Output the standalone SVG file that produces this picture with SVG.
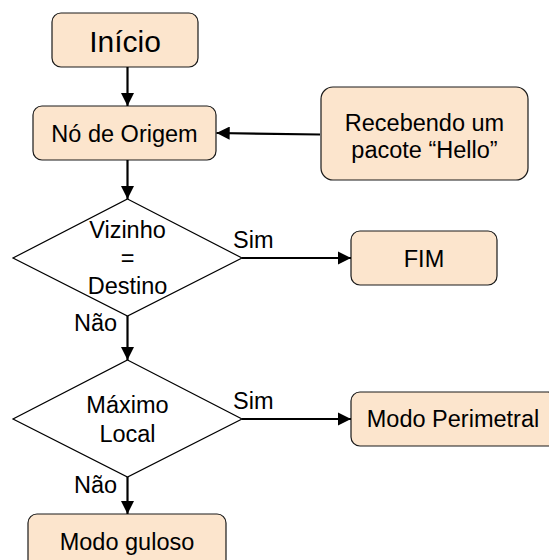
<svg xmlns="http://www.w3.org/2000/svg" width="549" height="560" viewBox="0 0 549 560">
<defs>
<marker id="ah" markerWidth="6" markerHeight="6" refX="6" refY="3" orient="auto" markerUnits="strokeWidth">
<path d="M0,0 L6,3 L0,6 Z" fill="#000"/>
</marker>
<style>
.box{fill:#fce5cd;stroke:#1a1a1a;stroke-width:1.2}
.dia{fill:#fff;stroke:#000;stroke-width:1.2}
.t{font-family:"Liberation Sans",Arial,sans-serif;font-size:23.5px;fill:#000;text-anchor:middle}
.lbl{font-family:"Liberation Sans",Arial,sans-serif;font-size:23.5px;fill:#000}
.c{stroke:#000;stroke-width:2.2;fill:none;marker-end:url(#ah)}
</style>
</defs>
<rect width="549" height="560" fill="#fff"/>
<g id="inicio"><rect class="box" x="52" y="13" width="146" height="54" rx="9"/><text class="t" x="125" y="52" style="font-size:30px">Início</text></g>
<g id="origem"><rect class="box" x="33" y="106" width="183" height="54" rx="9"/><text class="t" x="124.5" y="142">Nó de Origem</text></g>
<g id="hello"><rect class="box" x="321" y="87" width="207" height="93" rx="12"/><text class="t" x="424.5" y="131">Recebendo um</text><text class="t" x="424.5" y="158">pacote “Hello”</text></g>
<g id="vizinho"><polygon class="dia" points="127.5,199 242,258 127.5,316 13,258"/><text class="t" x="127.5" y="238">Vizinho</text><text class="t" x="127.5" y="266">=</text><text class="t" x="127.5" y="294">Destino</text></g>
<g id="fim"><rect class="box" x="351" y="231" width="146" height="54" rx="9"/><text class="t" x="424" y="267">FIM</text></g>
<g id="maximo"><polygon class="dia" points="127.5,360 242,419 127.5,477 13,419"/><text class="t" x="127.5" y="413">Máximo</text><text class="t" x="127.5" y="442">Local</text></g>
<g id="perimetral"><rect class="box" x="351" y="392" width="206" height="54" rx="9"/><text class="t" x="453" y="427">Modo Perimetral</text></g>
<g id="guloso"><rect class="box" x="28" y="514" width="198" height="60" rx="9"/><text class="t" x="127" y="550">Modo guloso</text></g>
<g id="connectors">
<line class="c" x1="127.5" y1="67" x2="127.5" y2="106"/>
<line class="c" x1="320" y1="134.5" x2="216.5" y2="133"/>
<line class="c" x1="127.5" y1="160" x2="127.5" y2="199"/>
<line class="c" x1="242" y1="258" x2="351" y2="258"/>
<line class="c" x1="127.5" y1="316" x2="127.5" y2="360"/>
<line class="c" x1="242" y1="419" x2="351" y2="419"/>
<line class="c" x1="127.5" y1="477" x2="127.5" y2="514"/>
<text class="lbl" x="233" y="248">Sim</text>
<text class="lbl" x="74" y="331">Não</text>
<text class="lbl" x="233" y="409">Sim</text>
<text class="lbl" x="74" y="493">Não</text>
</g>
</svg>
